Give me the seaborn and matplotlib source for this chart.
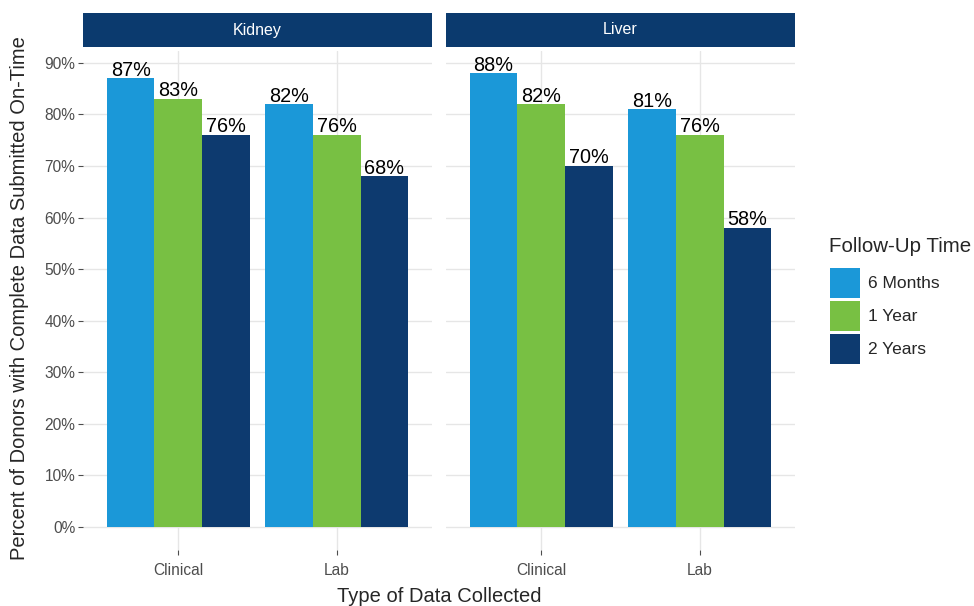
import matplotlib
matplotlib.use("Agg")
import matplotlib.pyplot as plt
import seaborn as sns
import pandas as pd
from matplotlib.patches import Patch, Rectangle
from matplotlib.ticker import FuncFormatter

organs = ["Kidney", "Liver"]
data_types = ["Clinical", "Lab"]
followups = ["6 Months", "1 Year", "2 Years"]
kidney_clinical = [87, 83, 76]
kidney_lab = [82, 76, 68]
liver_clinical = [88, 82, 70]
liver_lab = [81, 76, 58]
colors = ["#1B98D8", "#78C043", "#0D3A6F"]
strip_color = "#0B3A6E"

rows = []
for organ, vals in [("Kidney", (kidney_clinical, kidney_lab)), ("Liver", (liver_clinical, liver_lab))]:
    for dt, series in zip(data_types, vals):
        for f, v in zip(followups, series):
            rows.append({"Organ": organ, "Type": dt, "Follow": f, "Pct": v})
df = pd.DataFrame(rows)

sns.set_theme(style="white")
plt.rcParams["font.family"] = ["Liberation Sans", "DejaVu Sans"]

W, H = 974, 606
fig = plt.figure(figsize=(W / 100, H / 100), dpi=100)

panels = [(83, 432), (446, 795)]
ptop, pbot = 50.5, 549.7
strip_top, strip_bot = 13, 47

for i, organ in enumerate(organs):
    x0, x1 = panels[i]
    ax = fig.add_axes([x0 / W, 1 - pbot / H, (x1 - x0) / W, (pbot - ptop) / H])
    sub = df[df["Organ"] == organ]
    sns.barplot(data=sub, x="Type", y="Pct", hue="Follow", order=data_types,
                hue_order=followups, palette=colors, width=0.9, ax=ax,
                legend=False, saturation=1, errorbar=None, linewidth=0,
                edgecolor="none")
    for c in ax.containers:
        ax.bar_label(c, labels=[f"{int(v)}%" for v in c.datavalues], fontsize=14.3,
                     padding=-1, color="black")
    ax.set_xlim(-0.6, 1.6)
    ax.set_ylim(-4.4, 92.4)
    ax.set_yticks(range(0, 91, 10))
    ax.yaxis.set_major_formatter(FuncFormatter(lambda v, p: f"{int(v)}%"))
    ax.grid(True, color="#e6e6e6", linewidth=1.0)
    ax.set_axisbelow(True)
    for s in ax.spines.values():
        s.set_visible(False)
    ax.tick_params(axis="both", bottom=True, left=True, length=3.5, width=0.8,
                   color="#4d4d4d", labelcolor="#4d4d4d", labelsize=11.2,
                   direction="out")
    ax.tick_params(axis="y", pad=2)
    ax.tick_params(axis="x", pad=6)
    ax.set_xlabel("")
    ax.set_ylabel("")
    if i == 1:
        ax.tick_params(axis="y", left=False, labelleft=False)
    # strip
    sax = fig.add_axes([x0 / W, 1 - strip_bot / H, (x1 - x0) / W, (strip_bot - strip_top) / H])
    sax.set_xlim(0, 1); sax.set_ylim(0, 1)
    sax.add_patch(Rectangle((0, 0), 1, 1, color=strip_color))
    sax.text(0.5, 0.5, organ, color="white", ha="center", va="center", fontsize=11.5)
    sax.axis("off")

fig.text(439 / W, 1 - 596 / H, "Type of Data Collected", ha="center", va="center", fontsize=14.5)
fig.text(20 / W, 1 - 298 / H, "Percent of Donors with Complete Data Submitted On-Time",
         ha="center", va="center", rotation=90, fontsize=14.5)

fig.text(829 / W, 1 - 246 / H, "Follow-Up Time", ha="left", va="center", fontsize=14.8)
handles = [Patch(facecolor=c, edgecolor="none", label=l) for c, l in zip(colors, followups)]
leg = fig.legend(handles=handles, loc="upper left",
                 bbox_to_anchor=(830 / W, 1 - 268 / H), frameon=False, fontsize=12.5,
                 handlelength=1.75, handleheight=2.28, borderpad=0,
                 labelspacing=0.17, handletextpad=0.45, borderaxespad=0)

fig.savefig("out.png", dpi=100)
